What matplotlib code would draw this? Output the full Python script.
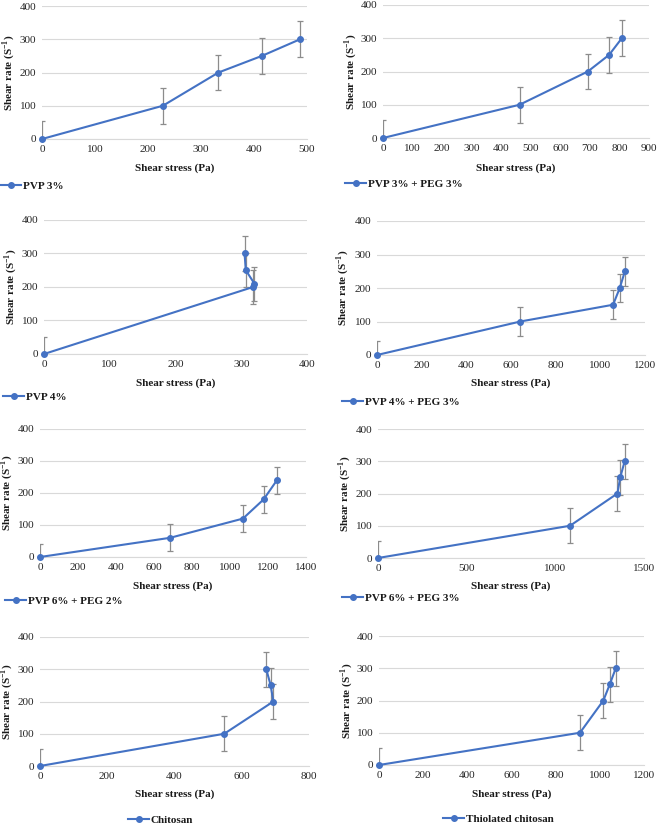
import matplotlib
matplotlib.use("Agg")
import matplotlib.pyplot as plt
from matplotlib.lines import Line2D

plt.rcParams['font.family'] = ['Liberation Serif', 'DejaVu Serif']
plt.rcParams['mathtext.fontset'] = 'custom'
plt.rcParams['mathtext.rm'] = 'Liberation Serif'
plt.rcParams['mathtext.bf'] = 'Liberation Serif:bold'

# ---- data ----
labels = ["PVP 3%", "PVP 3% + PEG 3%", "PVP 4%", "PVP 4% + PEG 3%",
          "PVP 6% + PEG 2%", "PVP 6% + PEG 3%", "Chitosan", "Thiolated chitosan"]

stress_pvp3 = [0, 228, 333, 415, 487]
rate_pvp3 = [0, 100, 200, 250, 300]
err_pvp3 = [54, 54, 54, 54, 54]

stress_pvp3_peg3 = [0, 462, 693, 765, 808]
rate_pvp3_peg3 = [0, 100, 200, 250, 300]
err_pvp3_peg3 = [54, 54, 54, 54, 54]

stress_pvp4 = [0, 318, 320, 307, 305]
rate_pvp4 = [0, 200, 210, 250, 300]
err_pvp4 = [51, 51, 51, 51, 51]

stress_pvp4_peg3 = [0, 642, 1057, 1087, 1110]
rate_pvp4_peg3 = [0, 100, 150, 200, 250]
err_pvp4_peg3 = [43, 43, 43, 43, 43]

stress_pvp6_peg2 = [0, 685, 1068, 1177, 1247]
rate_pvp6_peg2 = [0, 60, 120, 180, 240]
err_pvp6_peg2 = [42, 42, 42, 42, 42]

stress_pvp6_peg3 = [0, 1083, 1350, 1366, 1391]
rate_pvp6_peg3 = [0, 100, 200, 250, 300]
err_pvp6_peg3 = [54, 54, 54, 54, 54]

stress_chitosan = [0, 548, 694, 686, 673]
rate_chitosan = [0, 100, 200, 250, 300]
err_chitosan = [54, 54, 54, 54, 54]

stress_thiol = [0, 910, 1016, 1045, 1072]
rate_thiol = [0, 100, 200, 250, 300]
err_thiol = [54, 54, 54, 54, 54]

xmax_list = [500, 900, 400, 1200, 1400, 1500, 800, 1200]
xstep_list = [100, 100, 100, 200, 200, 500, 200, 200]
yticks = [0, 100, 200, 300, 400]

series = [
    (stress_pvp3, rate_pvp3, err_pvp3),
    (stress_pvp3_peg3, rate_pvp3_peg3, err_pvp3_peg3),
    (stress_pvp4, rate_pvp4, err_pvp4),
    (stress_pvp4_peg3, rate_pvp4_peg3, err_pvp4_peg3),
    (stress_pvp6_peg2, rate_pvp6_peg2, err_pvp6_peg2),
    (stress_pvp6_peg3, rate_pvp6_peg3, err_pvp6_peg3),
    (stress_chitosan, rate_chitosan, err_chitosan),
    (stress_thiol, rate_thiol, err_thiol),
]

# ---- layout (pixels) ----
W, H = 658, 824
# left, right, top, bottom of plot area
boxes = [
    (42, 307, 6, 139), (383, 649, 5, 138),
    (44, 307, 220, 354), (377, 645, 221, 355),
    (40, 306, 429, 557), (378, 644, 429, 558),
    (40, 309, 637, 766), (379, 644, 636, 765),
]
xlabel_y = [168, 168, 383, 383, 586, 586, 794, 794]
ylabel_x = [9, 351, 11, 343, 7, 345, 7, 347]
legend_pos = [(0, 186), (345, 184), (3, 397), (342, 402),
              (5, 601), (342, 598), (128, 820), (443, 819)]

blue = '#4472C4'
grey_err = '#8c8c8c'
grid_c = '#d9d9d9'
tick_c = '#262626'

fig = plt.figure(figsize=(W / 100, H / 100), dpi=100)

for i, (xs, ys, es) in enumerate(series):
    l, r, t, b = boxes[i]
    ax = fig.add_axes([l / W, 1 - b / H, (r - l) / W, (b - t) / H])
    ax.errorbar(xs, ys, yerr=es, fmt='none', ecolor=grey_err, elinewidth=0.9,
                capsize=2, capthick=0.9, zorder=2)
    ax.plot(xs, ys, color=blue, lw=1.5, marker='o', ms=4, clip_on=False, zorder=3)
    ax.set_xlim(0, xmax_list[i])
    ax.set_ylim(0, 400)
    ax.set_xticks(list(range(0, xmax_list[i] + 1, xstep_list[i])))
    ax.set_yticks(yticks)
    ax.grid(axis='y', color=grid_c, lw=0.8)
    ax.set_axisbelow(True)
    for s in ['top', 'right', 'left']:
        ax.spines[s].set_visible(False)
    ax.spines['bottom'].set_color(grid_c)
    ax.spines['bottom'].set_linewidth(0.8)
    ax.tick_params(length=0, labelsize=8, colors=tick_c, pad=4)
    ax.set_xlabel('Shear stress (Pa)', fontsize=8, fontweight='bold', color='#1a1a1a')
    ax.set_ylabel(r'Shear rate (S$^{\mathbf{-1}}$)', fontsize=8, fontweight='bold', color='#1a1a1a')
    ax.xaxis.label.set_va('center')
    ax.yaxis.label.set_va('center')
    hpx = b - t
    wpx = r - l
    ax.xaxis.set_label_coords(0.5, -(xlabel_y[i] - b) / hpx)
    ax.yaxis.set_label_coords((ylabel_x[i] - l) / wpx, 0.5)

    lx, ly = legend_pos[i]
    h = Line2D([], [], color=blue, lw=1.5, marker='o', ms=4)
    leg = ax.legend([h], [labels[i]], loc='center left',
                    bbox_to_anchor=(lx / W, 1 - ly / H), bbox_transform=fig.transFigure,
                    frameon=False, borderpad=0, borderaxespad=0, handlelength=1.9,
                    handletextpad=0.15, prop={'family': 'Liberation Serif', 'weight': 'bold', 'size': 8})
    for txt in leg.get_texts():
        txt.set_color('#1a1a1a')

fig.savefig('out.png', dpi=100)
